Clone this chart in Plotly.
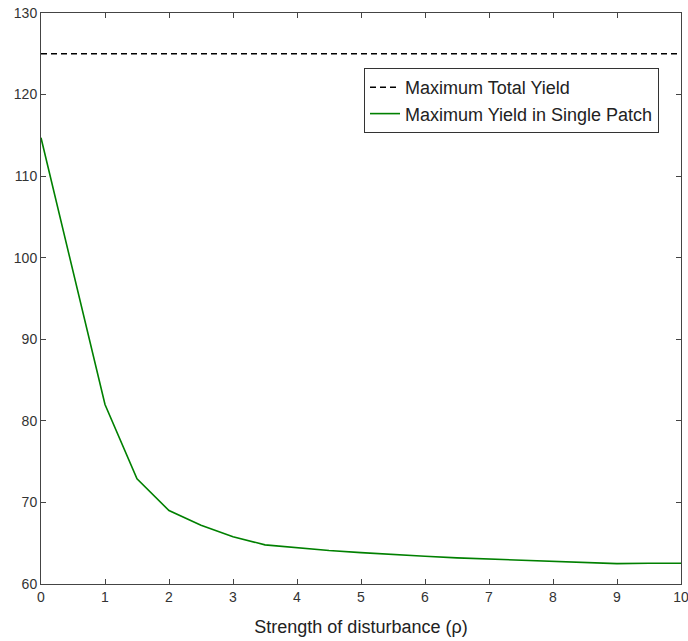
import plotly.graph_objects as go

# Strength of disturbance (rho) and the corresponding maximum yield values
rho = [0, 0.5, 1, 1.5, 2, 2.5, 3, 3.5, 4, 4.5, 5, 5.5, 6, 6.5, 7, 7.5, 8, 8.5, 9, 9.5, 10]
single_patch_yield = [114.7, 98.2, 82.0, 72.9, 69.0, 67.2, 65.8, 64.8, 64.45, 64.1, 63.85,
                      63.6, 63.4, 63.2, 63.05, 62.9, 62.75, 62.65, 62.5, 62.55, 62.55]
total_yield = [125.0, 125.0]
total_x = [0, 10]

x_ticks = list(range(0, 11))
y_ticks = list(range(60, 131, 10))

font_family = "Liberation Sans, Arial, sans-serif"

fig = go.Figure()
fig.add_trace(go.Scatter(
    x=total_x, y=total_yield, mode="lines",
    name="Maximum Total Yield",
    line=dict(color="black", width=1.6, dash="6px,4px"),
))
fig.add_trace(go.Scatter(
    x=rho, y=single_patch_yield, mode="lines",
    name="Maximum Yield in Single Patch",
    line=dict(color="#008000", width=1.6),
))

axis_common = dict(
    showgrid=False, zeroline=False,
    showline=True, linecolor="#444", linewidth=1,
    mirror="allticks", ticks="inside", ticklen=5, tickcolor="#444",
    tickfont=dict(family=font_family, size=14, color="#333"),
    ticklabeloverflow="allow", automargin=False,
)

fig.update_layout(
    width=688, height=641,
    margin=dict(l=41, r=7, t=13, b=57),
    paper_bgcolor="white", plot_bgcolor="white",
    font=dict(family=font_family, color="#222"),
    showlegend=True,
    legend=dict(
        x=(364 - 41) / 640, y=1 - (68 - 13) / 571,
        xanchor="left", yanchor="top",
        bordercolor="#333", borderwidth=1, bgcolor="white",
        font=dict(family=font_family, size=18, color="#222"),
        tracegroupgap=0, itemwidth=30,
    ),
    xaxis=dict(
        range=[0, 10], tickvals=x_ticks,
        title=dict(text="Strength of disturbance (\u03c1)",
                   font=dict(family=font_family, size=18, color="#222"),
                   standoff=16),
        **axis_common,
    ),
    yaxis=dict(
        range=[60, 130], tickvals=y_ticks,
        **axis_common,
    ),
)

fig.write_html("out.html")
